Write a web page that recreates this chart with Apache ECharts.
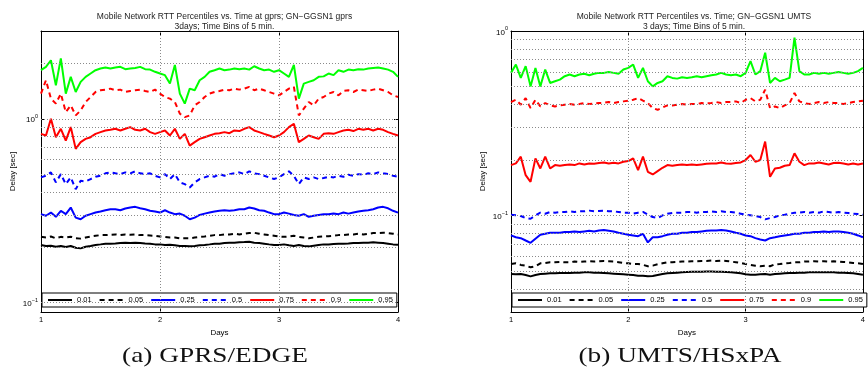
<!DOCTYPE html>
<html><head><meta charset="utf-8">
<script src="https://cdn.jsdelivr.net/npm/echarts@6/dist/echarts.min.js"></script>
<style>html,body{margin:0;padding:0;background:#fff}#c{width:868px;height:383px}</style>
</head><body><div id="c"></div>
<script>
// ---- time bins (hourly samples), x in days ----
const days = Array.from({length: 73}, (_, i) => 1 + i / 24);
const percentiles = ['0.01', '0.05', '0.25', '0.5', '0.75', '0.9', '0.95'];

// ---- (a) GPRS/EDGE, delay in seconds ----
const gprs_p01 = [0.2058,0.2033,0.2041,0.2016,0.2033,0.2007,0.2033,0.1991,0.1974,0.2016,0.2033,0.2058,0.2075,0.2093,0.2093,0.2101,0.2110,0.2119,0.2110,0.2119,0.2110,0.2101,0.2093,0.2075,0.2075,0.2058,0.2067,0.2050,0.2033,0.2033,0.2024,0.2033,0.2050,0.2058,0.2075,0.2093,0.2093,0.2110,0.2119,0.2119,0.2128,0.2136,0.2145,0.2119,0.2110,0.2093,0.2075,0.2058,0.2058,0.2075,0.2050,0.2033,0.2058,0.2033,0.2024,0.2041,0.2058,0.2075,0.2075,0.2084,0.2093,0.2093,0.2101,0.2110,0.2110,0.2119,0.2119,0.2128,0.2119,0.2110,0.2093,0.2075,0.2067];
const gprs_p05 = [0.228,0.226,0.229,0.224,0.228,0.226,0.2285,0.224,0.223,0.226,0.229,0.231,0.233,0.233,0.234,0.235,0.233,0.235,0.234,0.235,0.233,0.233,0.232,0.231,0.229,0.228,0.226,0.226,0.224,0.224,0.224,0.226,0.228,0.229,0.231,0.233,0.233,0.235,0.235,0.237,0.235,0.237,0.239,0.240,0.237,0.235,0.233,0.231,0.229,0.228,0.229,0.231,0.228,0.226,0.224,0.226,0.228,0.229,0.230,0.231,0.233,0.233,0.235,0.235,0.237,0.235,0.237,0.239,0.239,0.240,0.239,0.237,0.235];
const gprs_p25 = [0.303,0.297,0.309,0.293,0.316,0.303,0.329,0.290,0.284,0.297,0.303,0.309,0.313,0.318,0.322,0.322,0.318,0.325,0.329,0.332,0.326,0.322,0.316,0.313,0.309,0.318,0.309,0.303,0.305,0.297,0.284,0.290,0.300,0.305,0.309,0.313,0.316,0.318,0.316,0.318,0.322,0.322,0.329,0.325,0.318,0.316,0.309,0.303,0.303,0.309,0.305,0.300,0.297,0.303,0.293,0.297,0.300,0.303,0.303,0.305,0.303,0.309,0.305,0.309,0.313,0.316,0.318,0.322,0.329,0.332,0.326,0.316,0.309];
const gprs_p50 = [0.480,0.490,0.511,0.451,0.500,0.441,0.480,0.414,0.460,0.456,0.470,0.484,0.490,0.505,0.511,0.505,0.500,0.511,0.505,0.518,0.505,0.500,0.505,0.490,0.480,0.500,0.470,0.500,0.451,0.441,0.423,0.451,0.470,0.480,0.490,0.484,0.500,0.490,0.500,0.505,0.511,0.500,0.518,0.505,0.500,0.490,0.480,0.470,0.480,0.500,0.518,0.490,0.441,0.480,0.470,0.480,0.470,0.476,0.484,0.480,0.490,0.484,0.496,0.490,0.500,0.496,0.505,0.500,0.511,0.505,0.500,0.490,0.484];
const gprs_p75 = [0.828,0.811,1.0,0.794,0.882,0.761,0.901,0.686,0.746,0.777,0.794,0.828,0.846,0.864,0.871,0.882,0.864,0.882,0.901,0.871,0.864,0.882,0.846,0.828,0.846,0.864,0.811,0.882,0.777,0.828,0.715,0.746,0.777,0.794,0.811,0.828,0.835,0.846,0.835,0.864,0.857,0.882,0.901,0.864,0.846,0.828,0.811,0.794,0.811,0.846,0.901,0.939,0.746,0.777,0.811,0.794,0.777,0.828,0.835,0.828,0.846,0.864,0.871,0.857,0.882,0.871,0.882,0.864,0.882,0.871,0.846,0.828,0.811];
const gprs_p90 = [1.37,1.62,1.286,1.208,1.37,1.087,1.183,1.043,1.11,1.233,1.313,1.398,1.428,1.44,1.458,1.428,1.44,1.398,1.416,1.428,1.44,1.416,1.398,1.44,1.37,1.313,1.286,1.233,1.065,1.021,1.043,1.183,1.233,1.313,1.37,1.398,1.416,1.44,1.428,1.458,1.44,1.458,1.49,1.428,1.458,1.428,1.398,1.37,1.341,1.398,1.458,1.49,1.043,1.134,1.233,1.183,1.286,1.313,1.37,1.398,1.341,1.416,1.428,1.398,1.44,1.428,1.416,1.44,1.458,1.428,1.398,1.341,1.313];
const gprs_p95 = [1.837,1.915,2.08,1.52,2.13,1.37,1.69,1.398,1.586,1.69,1.762,1.837,1.876,1.90,1.876,1.90,1.915,1.86,1.876,1.89,1.915,1.86,1.85,1.80,1.762,1.726,1.553,1.96,1.37,1.208,1.458,1.428,1.62,1.69,1.80,1.837,1.876,1.837,1.85,1.876,1.86,1.876,1.85,1.93,1.876,1.837,1.85,1.80,1.837,1.762,1.69,1.96,1.286,1.553,1.586,1.62,1.69,1.70,1.762,1.726,1.837,1.80,1.85,1.837,1.86,1.85,1.876,1.89,1.90,1.876,1.85,1.80,1.69];

// ---- (b) UMTS/HSxPA, delay in seconds ----
const umts_p01 = [0.0482,0.0480,0.0482,0.0476,0.0468,0.0476,0.0482,0.0484,0.0486,0.0486,0.0488,0.0488,0.0488,0.0490,0.0490,0.0492,0.0492,0.0490,0.0490,0.0488,0.0486,0.0484,0.0482,0.0480,0.0478,0.0476,0.0472,0.0472,0.0468,0.0470,0.0476,0.0482,0.0486,0.0488,0.0490,0.0492,0.0494,0.0496,0.0496,0.0496,0.0498,0.0498,0.0496,0.0496,0.0494,0.0492,0.0490,0.0486,0.0480,0.0478,0.0478,0.0480,0.0482,0.0478,0.0482,0.0484,0.0486,0.0488,0.0488,0.0490,0.0490,0.0492,0.0492,0.0492,0.0492,0.0492,0.0492,0.0490,0.0490,0.0488,0.0486,0.0482,0.0478];
const umts_p05 = [0.0546,0.0551,0.0540,0.0535,0.0524,0.0531,0.0551,0.0553,0.0558,0.0558,0.0560,0.0558,0.0558,0.0563,0.0560,0.0563,0.0565,0.0563,0.0565,0.0567,0.0565,0.0563,0.0558,0.0553,0.0551,0.0546,0.0546,0.0540,0.0531,0.0535,0.0544,0.0551,0.0558,0.0558,0.0560,0.0563,0.0563,0.0565,0.0565,0.0567,0.0567,0.0570,0.0567,0.0570,0.0567,0.0563,0.0558,0.0553,0.0546,0.0540,0.0535,0.0531,0.0535,0.0531,0.0544,0.0546,0.0551,0.0553,0.0558,0.0558,0.0563,0.0563,0.0565,0.0563,0.0565,0.0563,0.0565,0.0563,0.0560,0.0558,0.0553,0.0551,0.0546];
const umts_p25 = [0.0780,0.0763,0.0754,0.0732,0.0711,0.0748,0.0786,0.0796,0.0806,0.0806,0.0806,0.0813,0.0813,0.0820,0.0813,0.0820,0.0827,0.0820,0.0830,0.0834,0.0827,0.0820,0.0806,0.0796,0.0786,0.0780,0.0773,0.0796,0.0715,0.0763,0.0763,0.0773,0.0786,0.0796,0.0796,0.0806,0.0806,0.0813,0.0813,0.0820,0.0827,0.0830,0.0830,0.0834,0.0830,0.0820,0.0806,0.0796,0.0780,0.0773,0.0754,0.0742,0.0732,0.0754,0.0763,0.0773,0.0780,0.0786,0.0796,0.0796,0.0806,0.0806,0.0813,0.0813,0.0820,0.0813,0.0820,0.0820,0.0813,0.0806,0.0796,0.0780,0.0763];
const umts_p50 = [0.1010,0.1002,0.0994,0.0969,0.0961,0.1002,0.1036,0.1023,0.1045,0.1036,0.1045,0.1045,0.1054,0.1045,0.1054,0.1054,0.1063,0.1054,0.1058,0.1063,0.1054,0.1054,0.1045,0.1036,0.1036,0.1023,0.1036,0.1045,0.1010,0.0981,0.0969,0.1002,0.1023,0.1032,0.1036,0.1036,0.1045,0.1045,0.1036,0.1045,0.1045,0.1054,0.1045,0.1054,0.1045,0.1045,0.1036,0.1023,0.1010,0.1002,0.0994,0.0981,0.0953,0.0969,0.0981,0.1002,0.1010,0.1023,0.1036,0.1036,0.1045,0.1036,0.1045,0.1036,0.1054,0.1045,0.1036,0.1045,0.1036,0.1032,0.1023,0.1019,0.1010];
const umts_p75 = [0.1876,0.1916,0.2084,0.1655,0.1523,0.2041,0.1799,0.2084,0.1799,0.1876,0.1860,0.1876,0.1892,0.1876,0.1916,0.1892,0.1916,0.1908,0.1924,0.1940,0.1916,0.1932,0.1916,0.1956,0.1973,0.2041,0.1762,0.2084,0.1726,0.1669,0.1740,0.1814,0.1876,0.1860,0.1876,0.1892,0.1876,0.1892,0.1876,0.1892,0.1908,0.1916,0.1916,0.1940,0.1916,0.1908,0.1924,0.1940,0.1998,0.2128,0.1956,0.1998,0.2515,0.1621,0.1799,0.1814,0.1860,0.1876,0.2173,0.1956,0.1876,0.1916,0.1916,0.1940,0.1916,0.1892,0.1924,0.1932,0.1916,0.1892,0.1916,0.1892,0.1916];
const umts_p90 = [0.412,0.424,0.3985,0.433,0.382,0.424,0.390,0.407,0.395,0.390,0.395,0.3985,0.4018,0.3985,0.4018,0.407,0.4018,0.405,0.407,0.4085,0.412,0.407,0.412,0.4155,0.419,0.424,0.433,0.419,0.407,0.382,0.374,0.385,0.395,0.395,0.3985,0.4018,0.3985,0.4018,0.4018,0.407,0.405,0.407,0.412,0.407,0.412,0.412,0.4155,0.407,0.424,0.433,0.4155,0.424,0.481,0.382,0.390,0.382,0.395,0.407,0.461,0.4155,0.407,0.4018,0.407,0.412,0.407,0.412,0.407,0.407,0.4018,0.407,0.412,0.4155,0.419];
const umts_p95 = [0.593,0.658,0.557,0.645,0.501,0.631,0.501,0.618,0.523,0.534,0.545,0.569,0.581,0.569,0.581,0.586,0.576,0.586,0.593,0.593,0.600,0.593,0.586,0.618,0.631,0.658,0.557,0.631,0.534,0.501,0.523,0.534,0.569,0.557,0.552,0.562,0.557,0.562,0.569,0.562,0.569,0.576,0.581,0.593,0.581,0.576,0.581,0.569,0.593,0.686,0.581,0.606,0.762,0.523,0.557,0.534,0.545,0.557,0.920,0.606,0.581,0.581,0.593,0.586,0.593,0.586,0.593,0.600,0.593,0.586,0.593,0.606,0.631];

// ---- axes / gridlines ----
const xTicks = [1, 2, 3, 4];
const gprsRange = [0.089, 3];
const umtsRange = [0.03, 1];
const gprsGridY = [0.1,0.2,0.3,0.4,0.5,0.6,0.7,0.8,0.9,1,2];
const umtsGridY = [0.04,0.05,0.06,0.07,0.08,0.09,0.1,0.2,0.3,0.4,0.5,0.6,0.7,0.8,0.9];
const gridX = [2, 3];
const titles = [
  'Mobile Network RTT Percentiles vs. Time at gprs; GN\u2212GGSN1 gprs\n3days; Time Bins of 5 min.',
  'Mobile Network RTT Percentiles vs. Time; GN\u2212GGSN1 UMTS\n3 days; Time Bins of 5 min.'
];
const captions = ['(a) GPRS/EDGE', '(b) UMTS/HSxPA'];

const FONT = 'Liberation Sans';
const lineStyles = {
  '0.01': {color: '#000000', type: 'solid'},
  '0.05': {color: '#000000', type: [5, 4]},
  '0.25': {color: '#0000ff', type: 'solid'},
  '0.5':  {color: '#0000ff', type: [5, 4]},
  '0.75': {color: '#ff0000', type: 'solid'},
  '0.9':  {color: '#ff0000', type: [5, 4]},
  '0.95': {color: '#00ff00', type: 'solid'}
};
const gprsSeries = [gprs_p01, gprs_p05, gprs_p25, gprs_p50, gprs_p75, gprs_p90, gprs_p95];
const umtsSeries = [umts_p01, umts_p05, umts_p25, umts_p50, umts_p75, umts_p90, umts_p95];

const grids = [
  {left: 41, top: 31, width: 357, height: 281},
  {left: 511, top: 31, width: 356, height: 281}
];

function supLabel(v) {
  const e = Math.log10(v), r = Math.round(e);
  if (Math.abs(e - r) > 1e-6) return '';
  return '{b|10}{s|' + (r < 0 ? '\u2212' + (-r) : String(r)) + '}';
}

const xAxes = [], yAxes = [], series = [], legends = [], titleList = [];
[0, 1].forEach(g => {
  const range = g === 0 ? gprsRange : umtsRange;
  const axisLine = {show: true, onZero: false, lineStyle: {color: '#000', width: 1}};
  const axisTick = {show: true, inside: true, length: 4, lineStyle: {color: '#000', width: 1}};
  xAxes.push({type: 'value', gridIndex: g, min: xTicks[0], max: xTicks[xTicks.length - 1], interval: 1,
    axisLine, axisTick, splitLine: {show: false},
    axisLabel: {fontSize: 7.5, color: '#000', fontFamily: FONT, margin: 4},
    name: 'Days', nameLocation: 'middle', nameGap: 13,
    nameTextStyle: {fontSize: 8, color: '#000', fontFamily: FONT}});
  xAxes.push({type: 'value', gridIndex: g, position: 'top', min: xTicks[0], max: xTicks[xTicks.length - 1], interval: 1,
    axisLine, axisTick, splitLine: {show: false}, axisLabel: {show: false}});
  yAxes.push({type: 'log', logBase: 10, gridIndex: g, min: range[0], max: range[1],
    axisLine, axisTick, splitLine: {show: false},
    axisLabel: {formatter: supLabel, margin: 3, color: '#000',
      rich: {b: {fontSize: 8, fontFamily: FONT, color: '#000', lineHeight: 11, verticalAlign: 'bottom'},
             s: {fontSize: 5.5, fontFamily: FONT, color: '#000', lineHeight: 11, verticalAlign: 'top'}}},
    name: 'Delay [sec]', nameLocation: 'middle', nameGap: 24,
    nameTextStyle: {fontSize: 8, color: '#000', fontFamily: FONT}});
  yAxes.push({type: 'log', logBase: 10, gridIndex: g, position: 'right', min: range[0], max: range[1],
    axisLine, axisTick, splitLine: {show: false}, axisLabel: {show: false}});

  // dotted grid
  const gy = g === 0 ? gprsGridY : umtsGridY;
  series.push({type: 'line', name: 'grid' + g, data: [], xAxisIndex: g * 2, yAxisIndex: g * 2, z: 1,
    markLine: {silent: true, symbol: ['none', 'none'], animation: false, label: {show: false},
      lineStyle: {type: [1, 2], color: '#8a8a8a', width: 1},
      data: gy.map(v => ({yAxis: v})).concat(gridX.map(v => ({xAxis: v})))}});

  const vals = g === 0 ? gprsSeries : umtsSeries;
  percentiles.forEach((p, k) => {
    series.push({type: 'line', name: p, xAxisIndex: g * 2, yAxisIndex: g * 2, z: 3,
      data: days.map((d, i) => [d, vals[k][i]]),
      symbol: 'none', animation: false,
      color: lineStyles[p].color,
      lineStyle: {color: lineStyles[p].color, type: lineStyles[p].type, width: 2}});
  });

  legends.push({data: percentiles, left: grids[g].left + 1, top: 293, orient: 'horizontal',
    itemWidth: 24, itemHeight: 10, itemGap: 7, padding: [3, 4, 3, 5],
    itemStyle: {opacity: 0},
    backgroundColor: '#fff', borderColor: '#000', borderWidth: 1, selectedMode: false,
    textStyle: {fontSize: 7.5, color: '#000', fontFamily: FONT}});

  titleList.push({text: titles[g], left: grids[g].left + grids[g].width / 2, top: 6, textAlign: 'center',
    textStyle: {fontSize: 8.5, fontWeight: 'normal', color: '#222', fontFamily: FONT, lineHeight: 10.5}});
});

const chart = echarts.init(document.getElementById('c'), null, {renderer: 'canvas'});
chart.setOption({
  animation: false,
  backgroundColor: '#fff',
  title: titleList,
  grid: grids,
  xAxis: xAxes,
  yAxis: yAxes,
  legend: legends,
  series: series,
  graphic: [
    {type: 'text', x: 215, y: 356, scaleX: 1.3, style: {text: captions[0], fontSize: 21, fontFamily: 'Liberation Serif', fill: '#111', align: 'center', verticalAlign: 'middle'}},
    {type: 'text', x: 680, y: 356, scaleX: 1.3, style: {text: captions[1], fontSize: 21, fontFamily: 'Liberation Serif', fill: '#111', align: 'center', verticalAlign: 'middle'}}
  ]
});
</script></body></html>
